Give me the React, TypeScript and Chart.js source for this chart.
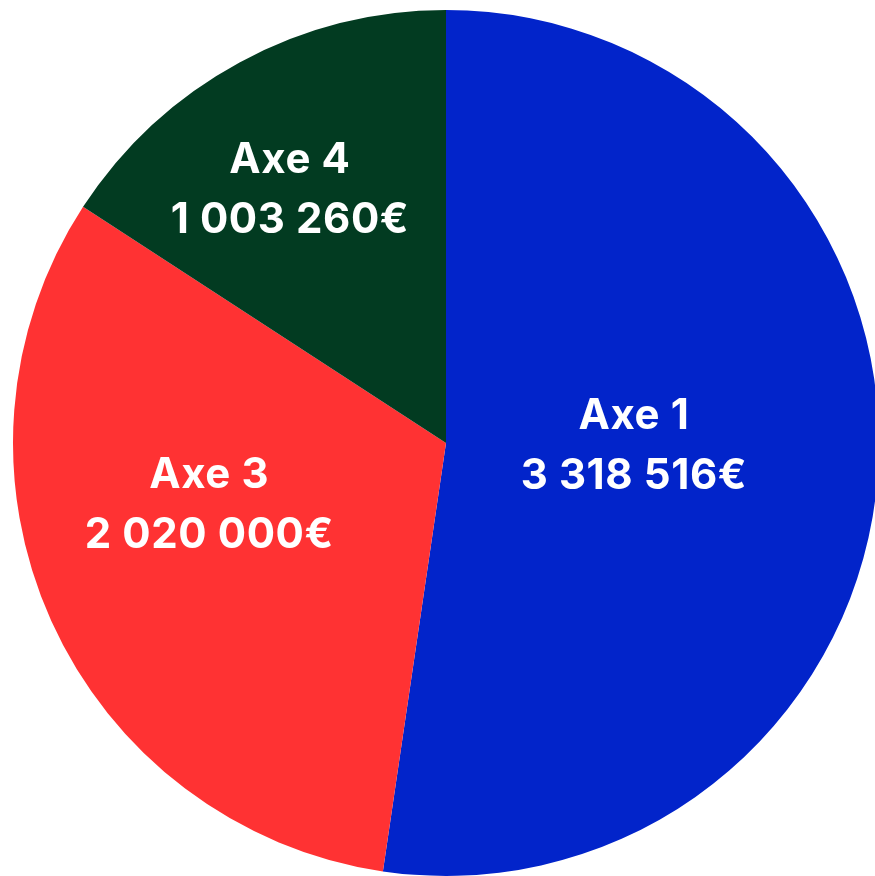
import React, { useEffect, useRef } from "react";
import { Chart, registerables } from "chart.js";

Chart.register(...registerables);

const categories = ["Axe 1", "Axe 3", "Axe 4"];
const amounts = [3318516, 2020000, 1003260];
const sliceColors = ["#0224CA", "#FF3233", "#023B21"];

// label placement inside each slice: fraction of the slice's angular span, fraction of radius
const labelAngleFrac = [0.479, 0.588, 0.448];
const labelRadiusFrac = [0.434, 0.564, 0.691];

function formatEuro(v: number): string {
  return String(Math.round(v)).replace(/\B(?=(\d{3})+(?!\d))/g, " ") + "€";
}

const sliceLabelPlugin = {
  id: "sliceLabels",
  afterDatasetsDraw(chart: any) {
    const meta = chart.getDatasetMeta(0);
    const ctx = chart.ctx as CanvasRenderingContext2D;
    ctx.save();
    ctx.fillStyle = "#ffffff";
    ctx.textAlign = "center";
    ctx.textBaseline = "alphabetic";
    ctx.font = "700 42px Inter, 'Open Sans', sans-serif";
    try {
      (ctx as any).letterSpacing = "0.6px";
    } catch (e) {}
    meta.data.forEach((arc: any, i: number) => {
      const p = arc.getProps(["x", "y", "startAngle", "endAngle", "outerRadius"], true);
      const a = p.startAngle + (p.endAngle - p.startAngle) * labelAngleFrac[i];
      const r = p.outerRadius * labelRadiusFrac[i];
      const cx = p.x + Math.cos(a) * r;
      const cy = p.y + Math.sin(a) * r;
      ctx.fillText(categories[i], cx, cy - 15);
      ctx.fillText(formatEuro(amounts[i]), cx, cy + 45);
    });
    ctx.restore();
  },
};

export default function App() {
  const ref = useRef<HTMLCanvasElement>(null);
  useEffect(() => {
    if (!ref.current) return;
    const chart = new Chart(ref.current, {
      type: "pie",
      data: {
        labels: categories,
        datasets: [
          {
            data: amounts,
            backgroundColor: sliceColors,
            borderWidth: 0,
          },
        ],
      },
      options: {
        responsive: false,
        animation: false,
        layout: { padding: 2 },
        plugins: {
          legend: { display: false },
          tooltip: { enabled: false },
        },
      },
      plugins: [sliceLabelPlugin],
    });
    return () => chart.destroy();
  }, []);
  return (
    <canvas
      ref={ref}
      width={876}
      height={870}
      style={{ display: "block", position: "fixed", left: 8, top: 8 }}
    />
  );
}
